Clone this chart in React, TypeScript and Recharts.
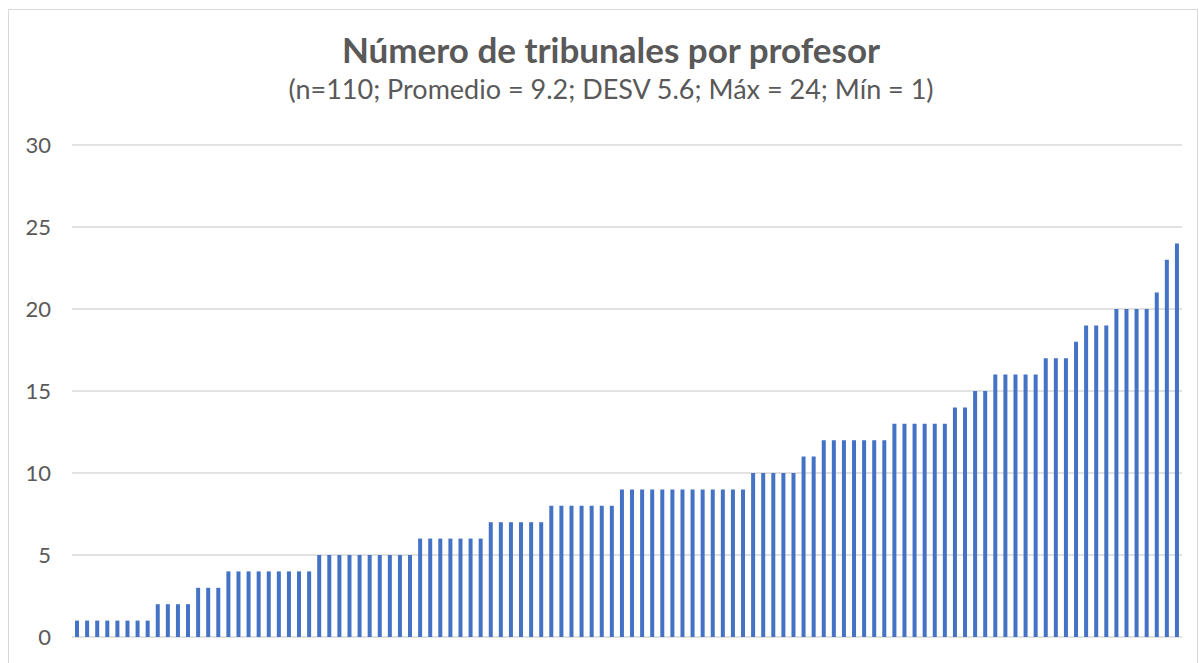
import React from "react";
import { BarChart, Bar, XAxis, YAxis, CartesianGrid } from "recharts";

// cantidad de tribunales por profesor, ordenado de menor a mayor (n=110)
const tribunales: number[] = [
  1, 1, 1, 1, 1, 1, 1, 1,
  2, 2, 2, 2,
  3, 3, 3,
  4, 4, 4, 4, 4, 4, 4, 4, 4,
  5, 5, 5, 5, 5, 5, 5, 5, 5, 5,
  6, 6, 6, 6, 6, 6, 6,
  7, 7, 7, 7, 7, 7,
  8, 8, 8, 8, 8, 8, 8,
  9, 9, 9, 9, 9, 9, 9, 9, 9, 9, 9, 9, 9,
  10, 10, 10, 10, 10,
  11, 11,
  12, 12, 12, 12, 12, 12, 12,
  13, 13, 13, 13, 13, 13,
  14, 14,
  15, 15,
  16, 16, 16, 16, 16,
  17, 17, 17,
  18,
  19, 19, 19,
  20, 20, 20, 20,
  21,
  23,
  24,
];

const yTicks = [0, 5, 10, 15, 20, 25, 30];

const title = "Número de tribunales por profesor";
const subtitle = "(n=110; Promedio = 9.2; DESV 5.6; Máx = 24; Mín = 1)";

const data = tribunales.map((v, i) => ({ profesor: i + 1, tribunales: v }));

export default function App() {
  return (
    <div style={{ position: "absolute", left: 0, top: 0, width: 1199, height: 663, background: "#fff", fontFamily: "Lato, sans-serif" }}>
      <div style={{ position: "absolute", left: 8, top: 9, width: 1190, height: 660, border: "1px solid #d9d9d9", boxSizing: "border-box" }} />
      <div style={{ position: "absolute", left: 8, width: 1206, top: 28, textAlign: "center", color: "#595959", fontSize: 35, fontWeight: 700, lineHeight: "normal", whiteSpace: "nowrap" }}>
        {title}
      </div>
      <div style={{ position: "absolute", left: 8, width: 1206, top: 72, textAlign: "center", color: "#595959", fontSize: 27, lineHeight: "normal", whiteSpace: "nowrap" }}>
        {subtitle}
      </div>
      <BarChart
        width={1199}
        height={663}
        data={data}
        margin={{ top: 145, right: 17, bottom: 26, left: 0 }}
        barCategoryGap="30%"
        style={{ position: "absolute", left: 0, top: 0 }}
      >
        <CartesianGrid vertical={false} stroke="#d9d9d9" strokeWidth={1.5} />
        <XAxis dataKey="profesor" hide />
        <YAxis
          width={72}
          domain={[0, 30]}
          ticks={yTicks}
          interval={0}
          axisLine={false}
          tickLine={false}
          tickSize={0}
          tickMargin={21}
          tick={{ fill: "#595959", fontSize: 22, fontFamily: "Lato, sans-serif" }}
        />
        <Bar dataKey="tribunales" fill="#4472c4" isAnimationActive={false} />
      </BarChart>
    </div>
  );
}
